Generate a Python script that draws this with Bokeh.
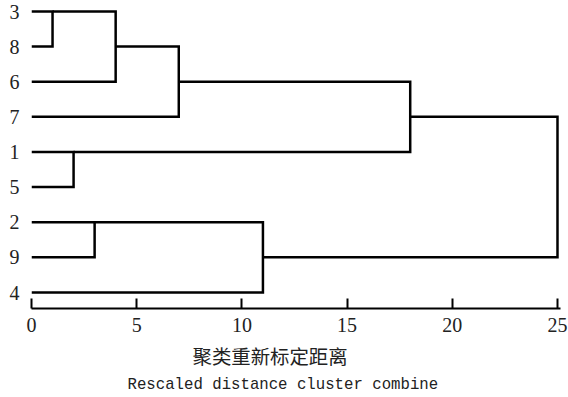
from bokeh.plotting import figure
from bokeh.models import Range1d, FixedTicker, Title
from bokeh.embed import file_html
from bokeh.resources import INLINE

# ---- data ----
leaves = ["3", "8", "6", "7", "1", "5", "2", "9", "4"]          # top to bottom
merge_name = ["C1", "C2", "C3", "C4", "C5", "C6", "C7", "C8"]
merge_left = ["3", "C1", "C2", "1", "C3", "2", "C6", "C5"]
merge_right = ["8", "6", "7", "5", "C4", "9", "4", "C7"]
merge_dist = [1, 4, 7, 2, 18, 3, 11, 25]
x_ticks = [0, 5, 10, 15, 20, 25]
title_cn = "聚类重新标定距离"
title_en = "Rescaled distance cluster combine"

# ---- compute dendrogram paths ----
ypos = {name: i for i, name in enumerate(leaves)}
xpos = {name: 0 for name in leaves}
is_leaf = {name: True for name in leaves}
xs, ys = [], []
for name, a, b, d in zip(merge_name, merge_left, merge_right, merge_dist):
    ya, yb = ypos[a], ypos[b]
    xs.append([xpos[a], d, d, xpos[b]])
    ys.append([ya, ya, yb, yb])
    if is_leaf[a] and is_leaf[b]:
        ypos[name] = min(ya, yb)
    else:
        ypos[name] = (ya + yb) / 2
    xpos[name] = d
    is_leaf[name] = False

W, H = 568, 397
p = figure(width=W, height=H, output_backend="svg", toolbar_location=None,
           x_range=Range1d(0, 25.143), y_range=Range1d(8.4555, -0.313),
           min_border_left=31, min_border_right=8, min_border_top=0,
           min_border_bottom=89)
p.outline_line_color = None
p.grid.visible = False
p.background_fill_color = "white"
p.border_fill_color = "white"

p.multi_line(xs, ys, line_color="black", line_width=2.5, line_join="miter")

# x axis
xa = p.xaxis[0]
xa.ticker = FixedTicker(ticks=x_ticks)
xa.axis_line_width = 2
xa.axis_line_color = "black"
xa.major_tick_in = 10
xa.major_tick_out = 0
xa.major_tick_line_width = 2
xa.major_tick_line_color = "black"
xa.minor_tick_line_color = None
xa.major_label_text_font = "Liberation Serif"
xa.major_label_text_font_size = "20px"
xa.major_label_text_color = "#222222"
xa.major_label_standoff = 9

# y axis (leaf labels)
ya_ = p.yaxis[0]
ya_.ticker = FixedTicker(ticks=list(range(len(leaves))))
ya_.major_label_overrides = {i: s for i, s in enumerate(leaves)}
ya_.axis_line_color = None
ya_.major_tick_line_color = None
ya_.major_tick_out = 0
ya_.major_tick_in = 0
ya_.minor_tick_line_color = None
ya_.major_label_text_font = "Liberation Serif"
ya_.major_label_text_font_size = "20px"
ya_.major_label_text_color = "#222222"
ya_.major_label_standoff = 12

p.add_layout(Title(text=title_cn, align="left", offset=161,
                   text_font="Noto Sans CJK SC", text_font_size="19.4px",
                   text_font_style="normal", text_color="#222222",
                   standoff=8), "below")
p.add_layout(Title(text=title_en, align="left", offset=96,
                   text_font="Liberation Mono", text_font_size="15.7px",
                   text_font_style="normal", text_color="#222222",
                   standoff=1), "below")

open("out.html", "w").write(file_html(p, INLINE))
